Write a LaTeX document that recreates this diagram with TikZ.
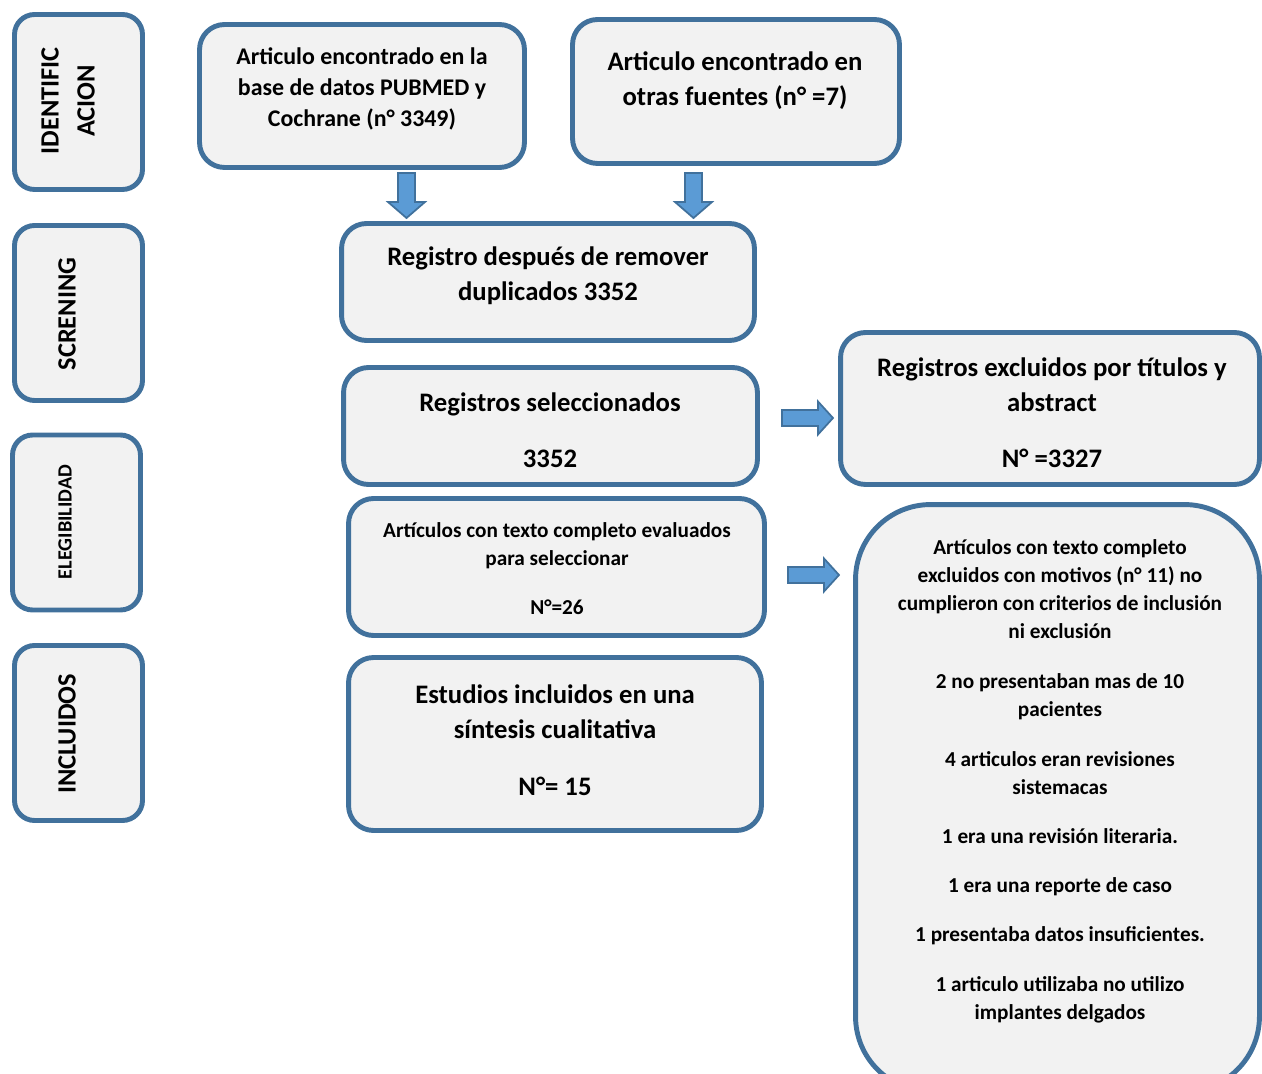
\documentclass[tikz,border=0pt]{standalone}
\usepackage{fontspec}
\setmainfont{Carlito}
\definecolor{bordc}{HTML}{41719C}
\definecolor{boxf}{HTML}{F2F2F2}
\definecolor{arrf}{HTML}{5B9BD5}
\begin{document}
\begin{tikzpicture}[x=0.02cm,y=-0.02cm,
 box/.style={draw=bordc, fill=boxf, line width=2.8pt, rounded corners=0.5cm, inner sep=0pt, rectangle},
 sidebox/.style={box, rounded corners=0.4cm, minimum width=2.56cm, minimum height=3.5cm},
 txt/.style={inner sep=0pt, align=center, font=\bfseries},
 blockarrow/.style={draw=bordc, fill=arrf, line width=1pt, line join=miter},
 pics/downarr/.style={code={\draw[blockarrow] (-8.5,0) -- (8.5,0) -- (8.5,29) -- (18.5,29) -- (0,45) -- (-18.5,29) -- (-8.5,29) -- cycle;}},
 pics/rightarr/.style={code={\draw[blockarrow] (0,-8) -- (36,-8) -- (36,-16.5) -- (51,0) -- (36,16.5) -- (36,8) -- (0,8) -- cycle;}}
]
\useasboundingbox (0,0) rectangle (1262,1074);
\clip (0,0) rectangle (1262,1074);

% side boxes
\node[sidebox] (l1) at (78.5,102) {};
\node[sidebox] (l2) at (78.5,313) {};
\node[sidebox] (l3) at (76.5,522.5) {};
\node[sidebox] (l4) at (78.5,733) {};
\node[txt, rotate=90, font=\bfseries\fontsize{15}{20.5}\selectfont] (t1) at (68,101) {IDENTIFIC\\ACION};
\node[txt, rotate=90, font=\bfseries\fontsize{15}{20}\selectfont] (t2) at (67,314) {SCRENING};
\node[txt, rotate=90, font=\bfseries\fontsize{11.5}{14}\selectfont] (t3) at (65,522) {ELEGIBILIDAD};
\node[txt, rotate=90, font=\bfseries\fontsize{15}{20}\selectfont] (t4) at (67,734) {INCLUIDOS};

% main boxes
\node[box, minimum width=6.5cm, minimum height=2.86cm] (a) at (362,96) {};
\node[box, minimum width=6.54cm, minimum height=2.88cm] (b) at (736,91.5) {};
\node[box, minimum width=8.26cm, minimum height=2.34cm] (c) at (548,282) {};
\node[box, minimum width=8.28cm, minimum height=2.34cm] (d) at (550.5,426) {};
\node[box, minimum width=8.38cm, minimum height=3.04cm] (e) at (1050,408.5) {};
\node[box, minimum width=8.32cm, minimum height=2.74cm] (f) at (556.5,567) {};
\node[box, minimum width=8.26cm, minimum height=3.46cm] (g) at (555,744) {};
\node[box, rounded corners=1.5cm, minimum width=8.08cm, minimum height=11.74cm] (h) at (1057.5,798) {};

\node[txt, font=\bfseries\fontsize{13.6}{17.6}\selectfont] (ta) at (362,89) {Articulo encontrado en la\\base de datos PUBMED y\\Cochrane (n° 3349)};
\node[txt, font=\bfseries\fontsize{15.2}{19.9}\selectfont] (tb) at (735,80.5) {Articulo encontrado en\\otras fuentes (n° =7)};
\node[txt, font=\bfseries\fontsize{15.2}{19.9}\selectfont] (tc) at (548,275.5) {Registro después de remover\\duplicados 3352};
\node[txt, font=\bfseries\fontsize{15.2}{19.9}\selectfont] (td) at (550,430) {Registros seleccionados\\[12pt]3352};
\node[txt, font=\bfseries\fontsize{15.2}{19.9}\selectfont] (te) at (1052,412.5) {Registros excluidos por títulos y\\abstract\\[12pt]N° =3327};
\node[txt, font=\bfseries\fontsize{12.1}{15.9}\selectfont] (tf) at (557,568.5) {Artículos con texto completo evaluados\\para seleccionar\\[12pt]N°=26};
\node[txt, font=\bfseries\fontsize{15.2}{19.9}\selectfont] (tg) at (555,740) {Estudios incluidos en una\\síntesis cualitativa\\[12.5pt]N°= 15};
\node[txt, font=\bfseries\fontsize{12.1}{15.9}\selectfont] (th) at (1060,781.5) {Artículos con texto completo\\excluidos con motivos (n° 11) no\\cumplieron con criterios de inclusión\\ni exclusión\\[12.5pt]2 no presentaban mas de 10\\pacientes\\[12.5pt]4 articulos eran revisiones\\sistemacas\\[12.5pt]1 era una revisión literaria.\\[12pt]1 era una reporte de caso\\[12pt]1 presentaba datos insuficientes.\\[12.5pt]1 articulo utilizaba no utilizo\\implantes delgados};

% arrows
\pic at (406.5,173) {downarr};
\pic at (693.5,173) {downarr};
\pic at (782,418) {rightarr};
\pic at (788,575) {rightarr};
\end{tikzpicture}
\end{document}
